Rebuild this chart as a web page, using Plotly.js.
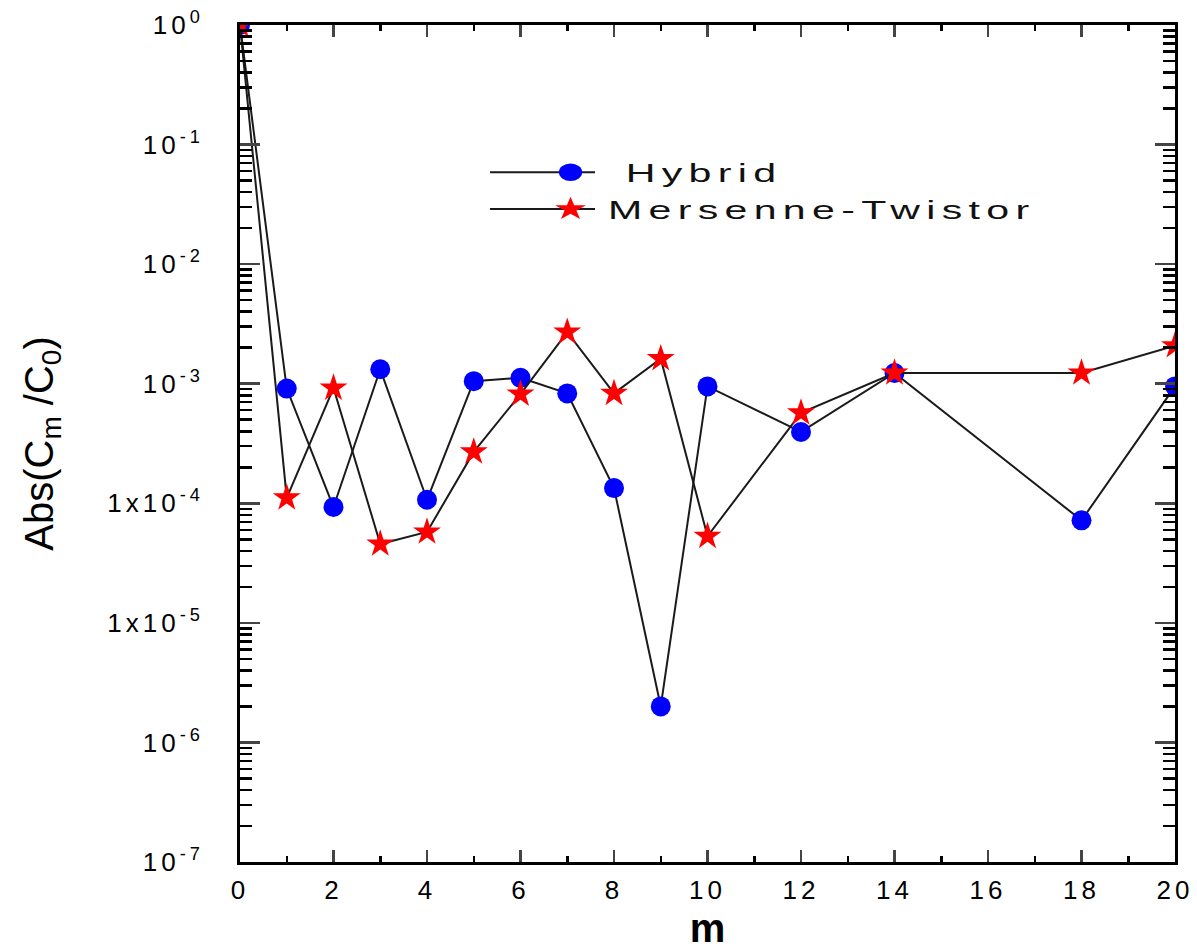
<!DOCTYPE html>
<html><head><meta charset="utf-8">
<script src="https://cdn.plot.ly/plotly-3.0.1.min.js"></script>
<style>
html,body{margin:0;padding:0;background:#fff;}
#chart{width:1197px;height:950px;}
.ytick text, .xtick text {letter-spacing:4px;}
.legendtext {letter-spacing:4px;}
</style></head><body><div id="chart"></div>
<script>
const m = [0, 1, 2, 3, 4, 5, 6, 7, 8, 9, 10, 12, 14, 18, 20];
const hybrid = [1, 9.1e-4, 9.3e-5, 1.32e-3, 1.07e-4, 1.05e-3, 1.12e-3, 8.3e-4, 1.34e-4, 2.0e-6, 9.5e-4, 3.95e-4, 1.23e-3, 7.2e-5, 9.5e-4];
const mersenne = [1, 1.11e-4, 9.2e-4, 4.57e-5, 5.76e-5, 2.69e-4, 8.2e-4, 2.7e-3, 8.3e-4, 1.62e-3, 5.3e-5, 5.7e-4, 1.23e-3, 1.23e-3, 2.08e-3];
const seriesNames = ['\u00a0Hybrid', 'Mersenne-Twistor'];
const yTickVals = [1e-7, 1e-6, 1e-5, 1e-4, 1e-3, 1e-2, 1e-1, 1];
const yTickText = ['10<sup>-7</sup>', '10<sup>-6</sup>', '1x10<sup>-5</sup>', '1x10<sup>-4</sup>', '10<sup>-3</sup>', '10<sup>-2</sup>', '10<sup>-1</sup>', '10<sup>0</sup>'];
const xTickVals = [0, 2, 4, 6, 8, 10, 12, 14, 16, 18, 20];
const xTickText = ['0', '2', '4', '6', '8', '10', '12', '14', '16', '18', '20'];

const yMinor = [];
for (let d = -7; d < 0; d++) { for (let k = 2; k <= 9; k++) yMinor.push(k * Math.pow(10, d)); }

const FONT = 'Liberation Sans, Arial, sans-serif';
const traces = [
  {x: m, y: hybrid, name: seriesNames[0], type: 'scatter', mode: 'lines+markers',
   line: {color: '#1a1a1a', width: 2},
   marker: {symbol: 'circle', size: 20, color: '#0000ff', line: {width: 0}}},
  {x: m, y: mersenne, name: seriesNames[1], type: 'scatter', mode: 'lines+markers',
   line: {color: '#1a1a1a', width: 2},
   marker: {symbol: 'star', size: 21, color: '#ff0000', line: {width: 0}}}
];
const layout = {
  width: 1197, height: 950,
  margin: {l: 240, r: 22, t: 25, b: 88},
  paper_bgcolor: '#fff', plot_bgcolor: '#fff',
  font: {family: FONT, color: '#000'},
  showlegend: true,
  legend: {x: 0.3134, y: 0.852, xanchor: 'left', yanchor: 'top', bgcolor: 'rgba(0,0,0,0)',
           font: {size: 26, family: FONT, color: '#111'}, itemwidth: 65, tracegroupgap: 0},
  xaxis: {range: [0, 20], tickvals: xTickVals, ticktext: xTickText, ticks: 'inside', ticklen: 12, tickwidth: 2.5,
          showline: true, linewidth: 3, linecolor: '#000', mirror: 'ticks', showgrid: false, zeroline: false,
          tickfont: {size: 26, family: FONT}, ticklabelstandoff: 3,
          minor: {dtick: 1, ticks: 'inside', ticklen: 6, tickwidth: 2.5, tickcolor: '#000', showgrid: false},
          title: {text: '<b>m</b>', font: {size: 40, family: FONT}, standoff: 46}},
  yaxis: {type: 'log', range: [-7, 0], tickvals: yTickVals, ticktext: yTickText, ticks: 'inside', ticklen: 20, tickwidth: 2.5,
          showline: true, linewidth: 3, linecolor: '#000', mirror: 'ticks', showgrid: false, zeroline: false,
          tickfont: {size: 26, family: FONT}, ticklabelstandoff: 28,
          minor: {tickvals: yMinor, ticks: 'inside', ticklen: 12, tickwidth: 2.5, tickcolor: '#000', showgrid: false},
          title: {text: 'Abs(C<sub>m</sub> /C<sub>0</sub>)', font: {size: 40, family: FONT}, standoff: 42}}
};
Plotly.newPlot('chart', traces, layout, {displayModeBar: false, staticPlot: true}).then(function () {
  document.querySelectorAll('.legend .scrollbox').forEach(function (e) { e.removeAttribute('clip-path'); });
  document.querySelectorAll('.legend').forEach(function (e) { e.removeAttribute('clip-path'); });
  document.querySelectorAll('.legendlines path').forEach(function (p) { p.setAttribute('d', 'M-43,0h105'); });
  document.querySelectorAll('.legendpoints path.scatterpts').forEach(function (p) {
    p.setAttribute('transform', (p.getAttribute('transform') || '') + ' scale(1.45,1.1)');
  });
  document.querySelectorAll('.legendtext').forEach(function (t) {
    const x0 = parseFloat(t.getAttribute('x')) || 0;
    t.setAttribute('transform', 'translate(' + x0 + ',0) scale(1.58,1) translate(' + (-x0) + ',0)');
  });
});
</script></body></html>
